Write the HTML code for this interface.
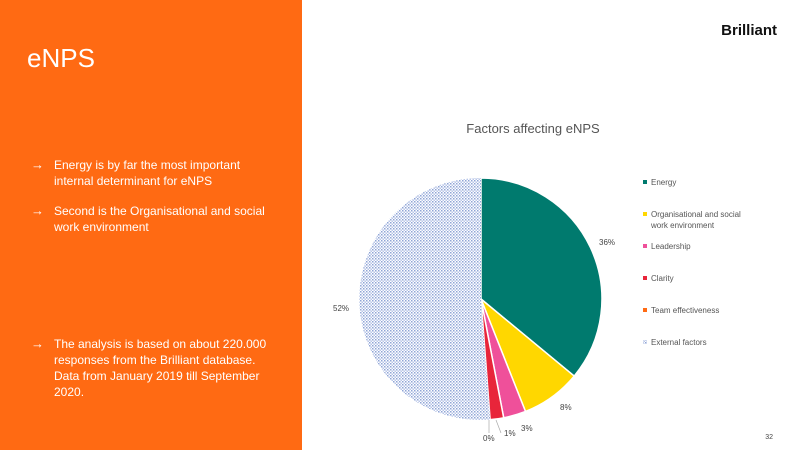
<!DOCTYPE html>
<html><head><meta charset="utf-8"><style>
body{margin:0;width:800px;height:450px;overflow:hidden;background:#fff;font-family:"Liberation Sans",sans-serif;position:relative}
.left{position:absolute;left:0;top:0;width:302px;height:450px;background:#FF6A13;color:#fff}
.t{position:absolute;left:27px;top:43px;font-size:26px}
.b{position:absolute;left:31px;font-size:12px;line-height:16px}
.b span{position:absolute;left:0;font-size:13px}
.b div{margin-left:23px}
</style></head><body>
<div class="left">
<div class="t">eNPS</div>
<div class="b" style="top:157px"><span>→</span><div>Energy is by far the most important<br>internal determinant for eNPS</div></div>
<div class="b" style="top:203px"><span>→</span><div>Second is the Organisational and social<br>work environment</div></div>
<div class="b" style="top:336px"><span>→</span><div>The analysis is based on about 220.000<br>responses from the Brilliant database.<br>Data from January 2019 till September<br>2020.</div></div>
</div>
<svg width="800" height="450" style="position:absolute;left:0;top:0">
<defs><pattern id="p" width="3" height="3" patternUnits="userSpaceOnUse"><rect width="3" height="3" fill="#fff"/><rect width="1.5" height="1.5" fill="#8fa4d6"/><rect x="1.5" y="1.5" width="1.5" height="1.5" fill="#b8c6e8"/></pattern></defs>
<text x="777" y="35" font-size="15" font-weight="bold" text-anchor="end" fill="#111">Brilliant</text>
<text x="533" y="133" font-size="13" text-anchor="middle" fill="#555">Factors affecting eNPS</text>
<g stroke="#fff" stroke-width="1.5">
<path d="M481,299 L481,178 A121,121 0 0 1 574.2,376.1 Z" fill="#007A6E"/>
<path d="M481,299 L574.2,376.1 A121,121 0 0 1 525.5,411.5 Z" fill="#FFD700"/>
<path d="M481,299 L525.5,411.5 A121,121 0 0 1 503.7,417.8 Z" fill="#EF509A"/>
<path d="M481,299 L503.7,417.8 A121,121 0 0 1 490.1,419.6 Z" fill="#E8253A"/>
<path d="M481,299 L490.1,419.6 A121,121 0 1 1 481,178 Z" fill="url(#p)" stroke="none"/>
</g>
<g font-size="8" fill="#444">
<text x="599" y="245">36%</text>
<text x="560" y="410">8%</text>
<text x="521" y="431">3%</text>
<text x="504" y="436">1%</text>
<text x="483" y="441">0%</text>
<text x="333" y="311">52%</text>
</g>
<line x1="496" y1="420" x2="501" y2="433" stroke="#aaa" stroke-width="0.7"/>
<line x1="489" y1="420" x2="489" y2="433" stroke="#aaa" stroke-width="0.7"/>
<g font-size="8" fill="#555">
<rect x="643" y="180" width="4" height="4" fill="#007A6E"/><text x="651" y="185">Energy</text>
<rect x="643" y="212" width="4" height="4" fill="#FFD700"/><text x="651" y="217">Organisational and social</text><text x="651" y="228">work environment</text>
<rect x="643" y="244" width="4" height="4" fill="#EF509A"/><text x="651" y="249">Leadership</text>
<rect x="643" y="276" width="4" height="4" fill="#E8253A"/><text x="651" y="281">Clarity</text>
<rect x="643" y="308" width="4" height="4" fill="#FF6A13"/><text x="651" y="313">Team effectiveness</text>
<rect x="643" y="340" width="4" height="4" fill="url(#p)"/><text x="651" y="345">External factors</text>
</g>
<text x="773" y="439" font-size="7" text-anchor="end" fill="#444">32</text>
</svg>
</body></html>
